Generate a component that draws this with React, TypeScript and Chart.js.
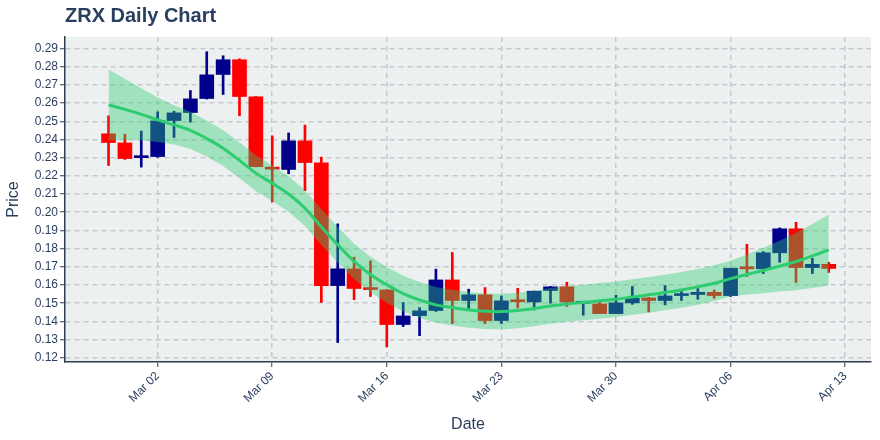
import React, { useEffect, useRef } from "react";
import { Chart, registerables } from "chart.js";

Chart.register(...registerables);

// ---- data ----
const dates = [
  "Feb 28", "Feb 29", "Mar 01", "Mar 02", "Mar 03", "Mar 04", "Mar 05", "Mar 06", "Mar 07", "Mar 08",
  "Mar 09", "Mar 10", "Mar 11", "Mar 12", "Mar 13", "Mar 14", "Mar 15", "Mar 16", "Mar 17", "Mar 18",
  "Mar 19", "Mar 20", "Mar 21", "Mar 22", "Mar 23", "Mar 24", "Mar 25", "Mar 26", "Mar 27", "Mar 28",
  "Mar 29", "Mar 30", "Mar 31", "Apr 01", "Apr 02", "Apr 03", "Apr 04", "Apr 05", "Apr 06", "Apr 07",
  "Apr 08", "Apr 09", "Apr 10", "Apr 11", "Apr 12",
];

const openP = [
  0.2431, 0.2381, 0.2300, 0.2306, 0.2504, 0.2548, 0.2625, 0.2757, 0.2838, 0.2634,
  0.2248, 0.2235, 0.2392, 0.2271, 0.1597, 0.1689, 0.1581, 0.1573, 0.1383, 0.1432,
  0.1460, 0.1628, 0.1515, 0.1546, 0.1405, 0.1513, 0.1507, 0.1570, 0.1590, 0.1500,
  0.1496, 0.1443, 0.1502, 0.1529, 0.1515, 0.1542, 0.1548, 0.1560, 0.1542, 0.1694,
  0.1689, 0.1777, 0.1909, 0.1696, 0.1714,
];
const highP = [
  0.2530, 0.2429, 0.2446, 0.2552, 0.2555, 0.2669, 0.2882, 0.2860, 0.2843, 0.2636,
  0.2420, 0.2436, 0.2479, 0.2303, 0.1936, 0.1753, 0.1733, 0.1575, 0.1504, 0.1476,
  0.1687, 0.1779, 0.1577, 0.1586, 0.1540, 0.1582, 0.1567, 0.1592, 0.1615, 0.1503,
  0.1505, 0.1544, 0.1592, 0.1532, 0.1597, 0.1573, 0.1581, 0.1573, 0.1693, 0.1824,
  0.1784, 0.1914, 0.1945, 0.1746, 0.1725,
];
const lowP = [
  0.2257, 0.2290, 0.2248, 0.2302, 0.2411, 0.2495, 0.2622, 0.2647, 0.2530, 0.2249,
  0.2057, 0.2211, 0.2119, 0.1504, 0.1284, 0.1520, 0.1537, 0.1260, 0.1372, 0.1322,
  0.1455, 0.1388, 0.1471, 0.1388, 0.1388, 0.1474, 0.1463, 0.1500, 0.1482, 0.1434,
  0.1443, 0.1443, 0.1494, 0.1452, 0.1491, 0.1515, 0.1522, 0.1527, 0.1537, 0.1647,
  0.1663, 0.1725, 0.1614, 0.1663, 0.1669,
];
const closeP = [
  0.2383, 0.2295, 0.2303, 0.2502, 0.2546, 0.2623, 0.2755, 0.2838, 0.2636, 0.2251,
  0.2237, 0.2392, 0.2273, 0.1597, 0.1689, 0.1581, 0.1575, 0.1383, 0.1430, 0.1458,
  0.1628, 0.1515, 0.1546, 0.1405, 0.1513, 0.1508, 0.1566, 0.1590, 0.1507, 0.1502,
  0.1443, 0.1502, 0.1527, 0.1515, 0.1540, 0.1546, 0.1560, 0.1542, 0.1692, 0.1689,
  0.1777, 0.1909, 0.1696, 0.1714, 0.1691,
];

const trend = [
  0.2590, 0.2565, 0.2538, 0.2508, 0.2480, 0.2450, 0.2405, 0.2352, 0.2285, 0.2215,
  0.2160, 0.2100, 0.2022, 0.1920, 0.1822, 0.1730, 0.1658, 0.1601, 0.1553, 0.1518,
  0.1491, 0.1476, 0.1463, 0.1456, 0.1454, 0.1460, 0.1471, 0.1485, 0.1496, 0.1504,
  0.1513, 0.1522, 0.1534, 0.1546, 0.1559, 0.1573, 0.1590, 0.1610, 0.1635, 0.1658,
  0.1680, 0.1704, 0.1729, 0.1760, 0.1793,
];
const bandUpper = [
  0.2785, 0.2733, 0.2681, 0.2630, 0.2588, 0.2552, 0.2504, 0.2450, 0.2383, 0.2313,
  0.2258, 0.2198, 0.2120, 0.2018, 0.1920, 0.1828, 0.1756, 0.1699, 0.1651, 0.1616,
  0.1589, 0.1574, 0.1561, 0.1554, 0.1552, 0.1558, 0.1569, 0.1583, 0.1594, 0.1602,
  0.1611, 0.1620, 0.1632, 0.1644, 0.1657, 0.1671, 0.1688, 0.1708, 0.1733, 0.1768,
  0.1805, 0.1844, 0.1887, 0.1936, 0.1988,
];
const bandLower = [
  0.2395, 0.2397, 0.2395, 0.2386, 0.2372, 0.2348, 0.2306, 0.2254, 0.2187, 0.2117,
  0.2062, 0.2002, 0.1924, 0.1822, 0.1724, 0.1632, 0.1560, 0.1503, 0.1455, 0.1420,
  0.1393, 0.1378, 0.1365, 0.1358, 0.1356, 0.1362, 0.1373, 0.1387, 0.1398, 0.1406,
  0.1415, 0.1424, 0.1436, 0.1448, 0.1461, 0.1475, 0.1492, 0.1512, 0.1537, 0.1548,
  0.1555, 0.1564, 0.1571, 0.1584, 0.1598,
];

const xTickDays = [3, 10, 17, 24, 31, 38, 45];
const xTickLabels = ["Mar 02", "Mar 09", "Mar 16", "Mar 23", "Mar 30", "Apr 06", "Apr 13"];
const yTicks = [
  0.12, 0.13, 0.14, 0.15, 0.16, 0.17, 0.18, 0.19, 0.2, 0.21,
  0.22, 0.23, 0.24, 0.25, 0.26, 0.27, 0.28, 0.29,
];

const INC = "#00008b";
const DEC = "#ff0000";
const TXT = "#2a3f5f";
const AXIS = "#2c3e50";
const GRID = "#c6c9cb";
const FONT = "'Liberation Sans', Arial, sans-serif";

export default function App() {
  const ref = useRef<HTMLCanvasElement>(null);

  useEffect(() => {
    document.body.style.margin = "0";
    if (!ref.current) return;
    const idx = dates.map((_, i) => i);
    const colors = idx.map((i) => (closeP[i] >= openP[i] ? INC : DEC));

    const bgPlugin = {
      id: "plotBg",
      beforeDraw(chart: any) {
        const { ctx, chartArea: a } = chart;
        ctx.save();
        ctx.fillStyle = "#ecf0f1";
        ctx.fillRect(a.left, a.top, a.right - a.left, a.bottom - a.top);
        ctx.restore();
      },
    };
    const titlePlugin = {
      id: "plotTitle",
      afterDraw(chart: any) {
        const { ctx, chartArea: a } = chart;
        ctx.save();
        ctx.font = `bold 20px ${FONT}`;
        ctx.fillStyle = TXT;
        ctx.textAlign = "left";
        ctx.textBaseline = "alphabetic";
        ctx.fillText("ZRX Daily Chart", a.left, 22);
        ctx.restore();
      },
    };

    const chart = new Chart(ref.current, {
      type: "bar",
      data: {
        datasets: [
          {
            type: "bar",
            data: idx.map((i) => ({ x: i, y: [lowP[i], highP[i]] })),
            backgroundColor: colors,
            barThickness: 2,
            grouped: false,
            order: 4,
          } as any,
          {
            type: "bar",
            data: idx.map((i) => ({ x: i, y: [openP[i], closeP[i]] })),
            backgroundColor: colors,
            barThickness: 14,
            minBarLength: 2,
            grouped: false,
            order: 3,
          } as any,
          {
            type: "line",
            data: idx.map((i) => ({ x: i, y: bandUpper[i] })),
            borderWidth: 0,
            borderColor: "rgba(0,0,0,0)",
            pointRadius: 0,
            tension: 0,
            fill: "+1",
            backgroundColor: "rgba(46,204,113,0.4)",
            order: 2,
          } as any,
          {
            type: "line",
            data: idx.map((i) => ({ x: i, y: bandLower[i] })),
            borderWidth: 0,
            borderColor: "rgba(0,0,0,0)",
            pointRadius: 0,
            tension: 0,
            fill: false,
            order: 2,
          } as any,
          {
            type: "line",
            data: idx.map((i) => ({ x: i, y: trend[i] })),
            borderColor: "#2ecc71",
            borderWidth: 3,
            pointRadius: 0,
            tension: 0.4,
            fill: false,
            order: 1,
          } as any,
        ],
      },
      options: {
        responsive: false,
        animation: false,
        devicePixelRatio: 1,
        layout: { padding: { top: 37, right: 9, left: 0, bottom: 0 } },
        plugins: {
          legend: { display: false },
          tooltip: { enabled: false },
          title: { display: false },
        },
        scales: {
          x: {
            type: "linear",
            min: -2.66,
            max: 46.58,
            offset: false,
            grid: {
              offset: false,
              color: GRID,
              lineWidth: 1.5,
              drawTicks: true,
              tickColor: AXIS,
              tickLength: 5,
              tickWidth: 1,
              tickBorderDash: [],
            },
            border: { display: true, color: AXIS, width: 1.5, dash: [5, 4] },
            afterBuildTicks: (s: any) => {
              s.ticks = xTickDays.map((v) => ({ value: v }));
            },
            ticks: {
              autoSkip: false,
              maxRotation: 45,
              minRotation: 45,
              padding: 2,
              color: TXT,
              font: { size: 12, family: FONT },
              callback: (_v: any, i: number) => xTickLabels[i],
            },
            title: {
              display: true,
              text: "Date",
              color: TXT,
              font: { size: 16, family: FONT },
              padding: { top: 4, bottom: 6 },
            },
            afterFit: (s: any) => {
              s.height = 78;
            },
          } as any,
          y: {
            type: "linear",
            min: 0.1177,
            max: 0.2963,
            beginAtZero: false,
            grid: {
              color: GRID,
              lineWidth: 1.5,
              drawTicks: true,
              tickColor: AXIS,
              tickLength: 5,
              tickWidth: 1,
              tickBorderDash: [],
            },
            border: { display: true, color: AXIS, width: 1.5, dash: [5, 4] },
            afterBuildTicks: (s: any) => {
              s.ticks = yTicks.map((v) => ({ value: v }));
            },
            ticks: {
              padding: 2,
              color: TXT,
              font: { size: 12, family: FONT },
              callback: (v: any) => Number(v).toFixed(2),
            },
            title: {
              display: true,
              text: "Price",
              color: TXT,
              font: { size: 16, family: FONT },
              padding: { top: 4, bottom: 4 },
            },
            afterFit: (s: any) => {
              s.width = 65;
            },
          } as any,
        },
      },
      plugins: [bgPlugin, titlePlugin],
    });

    return () => chart.destroy();
  }, []);

  return (
    <div style={{ width: 880, height: 440, background: "#ffffff" }}>
      <canvas ref={ref} width={880} height={440} style={{ width: 880, height: 440, display: "block" }} />
    </div>
  );
}
